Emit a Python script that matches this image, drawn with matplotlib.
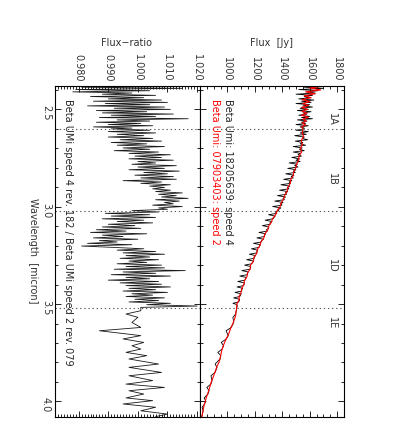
import numpy as np
import matplotlib
matplotlib.use("Agg")
import matplotlib.pyplot as plt
from matplotlib.ticker import MultipleLocator, FixedLocator, FormatStrFormatter

# SWS band edges (micron) and band labels
band_edges = [2.60, 3.02, 3.52]
band_names = ["1A", "1B", "1D", "1E"]
band_label_wl = [2.55, 2.858, 3.305, 3.60]
flux_ticks = [1000, 1200, 1400, 1600, 1800]

# --- flux ratio (speed 4 / speed 2) ---
wl_r_1a = [2.380, 2.386, 2.392, 2.398, 2.404, 2.410, 2.416, 2.422, 2.428, 2.434,
           2.440, 2.446, 2.452, 2.458, 2.464, 2.470, 2.476, 2.482, 2.488, 2.494,
           2.500, 2.506, 2.512, 2.518, 2.524, 2.530, 2.536, 2.542, 2.548, 2.554,
           2.560, 2.566, 2.572, 2.578, 2.584, 2.590, 2.596]
ratio_1a = [1.012, 0.981, 1.015, 0.979, 1.004, 0.978, 0.998, 0.988, 1.006, 0.984,
            1.002, 0.990, 1.008, 0.985, 1.010, 0.989, 1.004, 0.983, 1.009, 0.992,
            1.011, 0.986, 1.003, 0.988, 1.012, 0.991, 1.006, 0.987, 1.017, 0.993,
            1.004, 0.986, 1.001, 0.990, 1.005, 0.985, 0.998]

wl_r_1b = [2.600, 2.607, 2.614, 2.621, 2.628, 2.635, 2.642, 2.649, 2.656, 2.663,
           2.670, 2.677, 2.684, 2.691, 2.698, 2.705, 2.712, 2.719, 2.726, 2.733,
           2.740, 2.747, 2.754, 2.761, 2.768, 2.775, 2.782, 2.789, 2.796, 2.803,
           2.810, 2.817, 2.824, 2.831, 2.838, 2.845, 2.852, 2.859, 2.866, 2.873,
           2.880, 2.887, 2.894, 2.901, 2.908, 2.915, 2.922, 2.929, 2.936, 2.943,
           2.950, 2.957, 2.964, 2.971, 2.978, 2.985, 2.992, 2.999, 3.006, 3.013]
ratio_1b = [0.991, 1.004, 0.990, 1.006, 0.993, 1.002, 0.990, 1.005, 0.994, 1.008,
            0.991, 1.003, 0.993, 1.009, 0.995, 1.004, 0.992, 1.007, 0.997, 1.011,
            0.999, 1.008, 0.997, 1.012, 1.000, 1.006, 0.998, 1.013, 1.000, 1.009,
            0.997, 1.014, 1.002, 1.010, 0.999, 1.012, 1.001, 1.013, 0.995, 1.008,
            1.001, 1.011, 1.004, 1.009, 1.005, 1.011, 1.006, 1.015, 1.007, 1.013,
            1.008, 1.017, 1.006, 1.014, 1.009, 1.012, 1.005, 1.015, 1.007, 1.010]

wl_r_1d = [3.020, 3.027, 3.034, 3.041, 3.048, 3.055, 3.062, 3.069, 3.076, 3.083,
           3.090, 3.097, 3.104, 3.111, 3.118, 3.125, 3.132, 3.139, 3.146, 3.153,
           3.160, 3.167, 3.174, 3.181, 3.188, 3.195, 3.202, 3.209, 3.216, 3.223,
           3.230, 3.237, 3.244, 3.251, 3.258, 3.265, 3.272, 3.279, 3.286, 3.293,
           3.300, 3.307, 3.314, 3.321, 3.328, 3.335, 3.342, 3.349, 3.356, 3.363,
           3.370, 3.377, 3.384, 3.391, 3.398, 3.405, 3.412, 3.419, 3.426, 3.433,
           3.440, 3.447, 3.454, 3.461, 3.468, 3.475, 3.482, 3.489, 3.496, 3.503,
           3.510, 3.517]
ratio_1d = [0.998, 1.007, 0.989, 1.004, 0.991, 1.006, 0.988, 1.002, 0.993, 1.005,
            0.990, 0.999, 0.988, 1.001, 0.986, 0.996, 0.984, 1.003, 0.988, 0.995,
            0.985, 1.000, 0.987, 0.993, 0.983, 0.998, 0.981, 0.992, 1.002, 0.993,
            1.006, 0.995, 1.009, 0.996, 1.004, 0.994, 1.007, 0.997, 1.003, 0.993,
            1.008, 0.996, 1.009, 0.992, 1.016, 0.995, 1.006, 0.991, 1.011, 0.996,
            1.004, 0.990, 1.007, 0.994, 1.008, 0.996, 1.011, 0.997, 1.006, 0.995,
            1.010, 0.998, 1.005, 0.996, 1.009, 0.999, 1.007, 0.997, 1.011, 1.003,
            1.020, 1.001]

wl_r_1e = [3.534, 3.551, 3.568, 3.594, 3.620, 3.637, 3.662, 3.679, 3.697, 3.714,
           3.731, 3.748, 3.765, 3.782, 3.808, 3.825, 3.851, 3.868, 3.893, 3.911,
           3.928, 3.945, 3.962, 3.982, 3.996, 4.013, 4.030, 4.048, 4.065, 4.078]
ratio_1e = [1.001, 0.996, 1.000, 0.998, 1.001, 0.987, 1.001, 0.995, 1.002, 0.998,
            1.001, 0.996, 1.003, 0.997, 1.007, 0.997, 1.008, 0.997, 1.005, 0.996,
            1.009, 0.997, 1.002, 0.996, 1.005, 0.995, 1.006, 1.001, 1.010, 1.006]

# --- flux, speed 4 (black), sampled on the same grid as the ratio ---
flux4_1a = [1740, 1560, 1700, 1520, 1660, 1580, 1640, 1500, 1620, 1560,
            1600, 1520, 1630, 1540, 1610, 1500, 1600, 1550, 1620, 1530,
            1590, 1510, 1610, 1550, 1580, 1520, 1600, 1540, 1620, 1510,
            1580, 1540, 1570, 1500, 1590, 1530, 1560]
flux4_1b = [1560, 1500, 1590, 1530, 1575, 1490, 1560, 1545, 1585, 1495,
            1550, 1530, 1570, 1480, 1545, 1525, 1560, 1480, 1535, 1515,
            1540, 1470, 1525, 1500, 1530, 1450, 1510, 1490, 1515, 1440,
            1500, 1480, 1495, 1425, 1485, 1465, 1480, 1410, 1470, 1450,
            1460, 1390, 1455, 1438, 1448, 1380, 1440, 1422, 1432, 1365,
            1424, 1405, 1415, 1345, 1405, 1388, 1398, 1330, 1390, 1375]
flux4_1d = [1372, 1350, 1360, 1300, 1348, 1340, 1332, 1275, 1325, 1310,
            1312, 1255, 1302, 1300, 1285, 1292, 1230, 1278, 1272, 1270,
            1215, 1262, 1250, 1248, 1190, 1240, 1235, 1230, 1175, 1220,
            1215, 1214, 1160, 1205, 1196, 1195, 1140, 1190, 1184, 1176,
            1125, 1170, 1168, 1165, 1105, 1152, 1146, 1146, 1090, 1138,
            1132, 1128, 1075, 1124, 1122, 1118, 1070, 1110, 1105, 1104,
            1055, 1100, 1096, 1090, 1045, 1088, 1087, 1082, 1040, 1070,
            1072, 1068]
flux4_1e = [1065, 1060, 1040, 1046, 1028, 990, 1006, 992, 955, 972,
            962, 930, 952, 946, 910, 924, 910, 880, 888, 879,
            850, 866, 858, 830, 841, 834, 815, 823, 818, 812]

# --- flux, speed 2 (red) ---
wl_2 = [2.38, 2.39, 2.40, 2.41, 2.42, 2.43, 2.44, 2.45, 2.46, 2.47,
        2.48, 2.49, 2.50, 2.51, 2.52, 2.53, 2.54, 2.55, 2.56, 2.57,
        2.58, 2.59, 2.60, 2.62, 2.64, 2.66, 2.68, 2.70, 2.72, 2.74,
        2.76, 2.78, 2.80, 2.82, 2.84, 2.86, 2.88, 2.90, 2.92, 2.94,
        2.96, 2.98, 3.00, 3.02, 3.04, 3.06, 3.08, 3.10, 3.12, 3.14,
        3.16, 3.18, 3.20, 3.22, 3.24, 3.26, 3.28, 3.30, 3.32, 3.34,
        3.36, 3.38, 3.40, 3.42, 3.44, 3.46, 3.48, 3.50, 3.52, 3.54,
        3.56, 3.58, 3.60, 3.62, 3.64, 3.66, 3.68, 3.70, 3.72, 3.74,
        3.76, 3.78, 3.80, 3.82, 3.84, 3.86, 3.88, 3.90, 3.92, 3.94,
        3.96, 3.98, 4.00, 4.02, 4.04, 4.06, 4.08]
flux_2 = [1700, 1600, 1680, 1570, 1640, 1560, 1610, 1545, 1600, 1550,
          1590, 1540, 1585, 1545, 1580, 1540, 1590, 1550, 1575, 1545,
          1570, 1540, 1552, 1545, 1556, 1538, 1547, 1532, 1540, 1522,
          1520, 1505, 1498, 1484, 1480, 1462, 1458, 1441, 1436, 1418,
          1410, 1392, 1384, 1362, 1352, 1330, 1320, 1300, 1294, 1272,
          1266, 1244, 1236, 1218, 1214, 1193, 1190, 1168, 1166, 1146,
          1142, 1124, 1120, 1104, 1100, 1086, 1084, 1068, 1068, 1062,
          1060, 1050, 1040, 1026, 1016, 1005, 990, 978, 966, 958,
          952, 946, 938, 924, 914, 904, 894, 882, 874, 866,
          856, 846, 838, 830, 824, 818, 814]

wl_r = np.concatenate([wl_r_1a, wl_r_1b, wl_r_1d, wl_r_1e])
ratio = np.concatenate([ratio_1a, ratio_1b, ratio_1d, ratio_1e])
flux_4 = np.concatenate([flux4_1a, flux4_1b, flux4_1d, flux4_1e])

plt.rcParams["font.family"] = "DejaVu Sans"
plt.rcParams["font.size"] = 7

fig = plt.figure(figsize=(4.0, 4.45), dpi=100)
ax_r = fig.add_axes([0.1375, 0.0629, 0.3625, 0.7438])
ax_f = fig.add_axes([0.5, 0.0629, 0.36, 0.7438])

ax_r.plot(ratio, wl_r, color="0.1", lw=0.6)
ax_f.plot(flux_4, wl_r, color="black", lw=0.6)
ax_f.plot(flux_2, wl_2, color="red", lw=0.8)

for ax in (ax_r, ax_f):
    ax.set_ylim(4.08, 2.38)
    for edge in band_edges:
        ax.axhline(edge, color="0.35", lw=0.8, ls=(0, (1.2, 2.5)))
    ax.yaxis.set_major_locator(MultipleLocator(0.5))
    ax.yaxis.set_minor_locator(MultipleLocator(0.1))
    ax.tick_params(which="both", direction="in", top=True, bottom=True,
                   left=True, right=True, labeltop=True, labelbottom=False,
                   width=0.6, pad=3, labelcolor="0.2")
    ax.tick_params(which="major", length=4.5)
    ax.tick_params(which="minor", length=2.2)
    for sp in ax.spines.values():
        sp.set_linewidth(0.8)

ax_r.set_xlim(0.972, 1.021)
ax_r.xaxis.set_major_locator(MultipleLocator(0.01))
ax_r.xaxis.set_minor_locator(MultipleLocator(0.001))
ax_r.xaxis.set_major_formatter(FormatStrFormatter("%.3f"))
ax_r.tick_params(axis="x", labelrotation=-90)
ax_r.tick_params(axis="y", labelrotation=-90)

ax_f.set_xlim(800, 1850)
ax_f.xaxis.set_major_locator(FixedLocator(flux_ticks))
ax_f.xaxis.set_minor_locator(MultipleLocator(50))
ax_f.tick_params(axis="x", labelrotation=-90)
ax_f.tick_params(axis="y", labelleft=False)

for name, wl in zip(band_names, band_label_wl):
    ax_f.text(1763, wl, name, rotation=-90, ha="center", va="center", color="0.2")

ax_f.text(1004, 2.447, "Beta Umi: 18205639: speed 4", rotation=-90,
          ha="center", va="top", color="0.15")
ax_f.text(909, 2.447, "Beta Umi: 07903403: speed 2", rotation=-90,
          ha="center", va="top", color="red")
ax_r.text(0.9765, 2.447, "Beta UMi speed 4 rev. 182 / Beta UMi speed 2 rev. 079",
          rotation=-90, ha="center", va="top", color="0.15")

fig.text(0.3175, 0.903, "Flux\u2212ratio", ha="center", va="center", color="0.2")
fig.text(0.68, 0.903, "Flux  [Jy]", ha="center", va="center", color="0.2")
fig.text(0.0825, 0.436, "Wavelength  [micron]", rotation=-90,
         ha="center", va="center", color="0.2")

fig.savefig("out.png", dpi=100)
